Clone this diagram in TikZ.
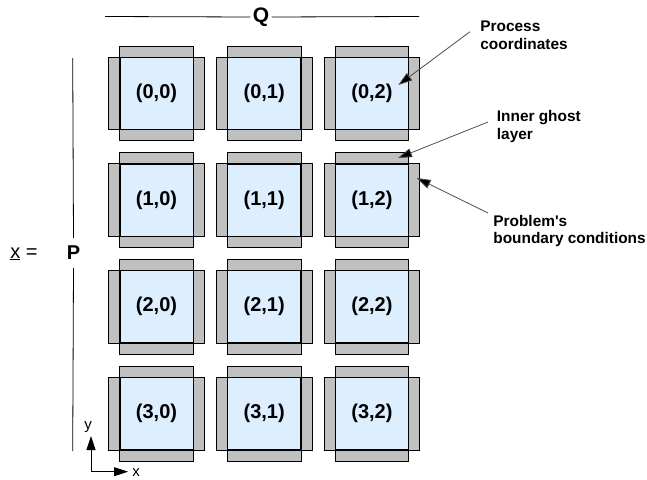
\documentclass[tikz,border=0pt]{standalone}
\usepackage{fontspec}
\setmainfont{Liberation Sans}
\usetikzlibrary{arrows.meta,positioning,calc}
\definecolor{softblue}{RGB}{221,238,255}
\definecolor{ghostgray}{RGB}{192,192,192}

\begin{document}
\begin{tikzpicture}[x=1pt,y=-1pt,line width=0.8pt,every node/.style={align=center},
  cell/.style={draw,fill=softblue,minimum width=73pt,minimum height=72pt,inner sep=0pt,font=\fontsize{20}{22}\selectfont\bfseries},
  ghost/.style={draw,fill=ghostgray},
  note/.style={anchor=west,align=left,inner sep=2pt,font=\fontsize{15.4}{17.5}\selectfont\bfseries},
  pointer/.style={draw=black!70,-{Triangle[length=14pt,width=9pt,fill=black]}},
  axis/.style={-{Triangle[length=14pt,width=9pt]}}]
\useasboundingbox (0,0) rectangle (647,479);
% process grid with ghost layers
\foreach \r/\y in {0/93.3,1/200,2/306.7,3/413.5}
  \foreach \c/\x in {0/156.5,1/264.2,2/371.9}{
    \node[cell] (c\r\c) at (\x,\y) {(\r,\c)};
    \draw[ghost] (c\r\c.north west) rectangle ([yshift=11pt]c\r\c.north east);
    \draw[ghost] (c\r\c.south west) rectangle ([yshift=-11pt]c\r\c.south east);
    \draw[ghost] (c\r\c.north west) rectangle ([xshift=-11pt]c\r\c.south west);
    \draw[ghost] (c\r\c.north east) rectangle ([xshift=11pt]c\r\c.south east);
  }
% Q and P extents
\node[font=\fontsize{21}{22}\selectfont\bfseries,inner sep=2pt] (Q) at (261,17) {Q};
\coordinate (qleft) at (105,16.5); \coordinate (qright) at (419,16.5);
\draw (qleft)--(Q.west); \draw (Q.east)--(qright);
\node[font=\fontsize{20}{22}\selectfont\bfseries,inner sep=2pt,minimum height=29pt] (P) at (73.5,253) {P};
\coordinate (ptop) at (72.7,58); \coordinate (pbot) at (72.7,451);
\draw (ptop)--(P.north); \draw (P.south)--(pbot);
\node[font=\fontsize{20}{22}\selectfont] (xeq) at (24,254) {\underline{x} =};
% axes
\coordinate (o) at (91,471.7); \coordinate (ay) at (91,436); \coordinate (ax) at (128,471.7);
\draw[axis] (o)--(ay); \draw[axis] (o)--(ax);
\node[font=\fontsize{15}{17}\selectfont] (ylab) at (88,427) {y};
\node[font=\fontsize{15}{17}\selectfont] (xlab) at (136,473) {x};
% annotations
\node[note] (n1) at (478,35.5) {Process\\coordinates};
\node[note] (n2) at (494.5,126.5) {Inner ghost\\layer};
\node[note] (n3) at (491,231) {Problem\textquotesingle s\\boundary conditions};
\coordinate (s1) at (470,31.7); \coordinate (t1) at (398.3,85);
\coordinate (s2) at (488,122); \coordinate (t2) at (398,158);
\coordinate (s3) at (488,213); \coordinate (t3) at (416.7,178);
\draw[pointer] (s1)--(t1); \draw[pointer] (s2)--(t2); \draw[pointer] (s3)--(t3);
\end{tikzpicture}
\end{document}
